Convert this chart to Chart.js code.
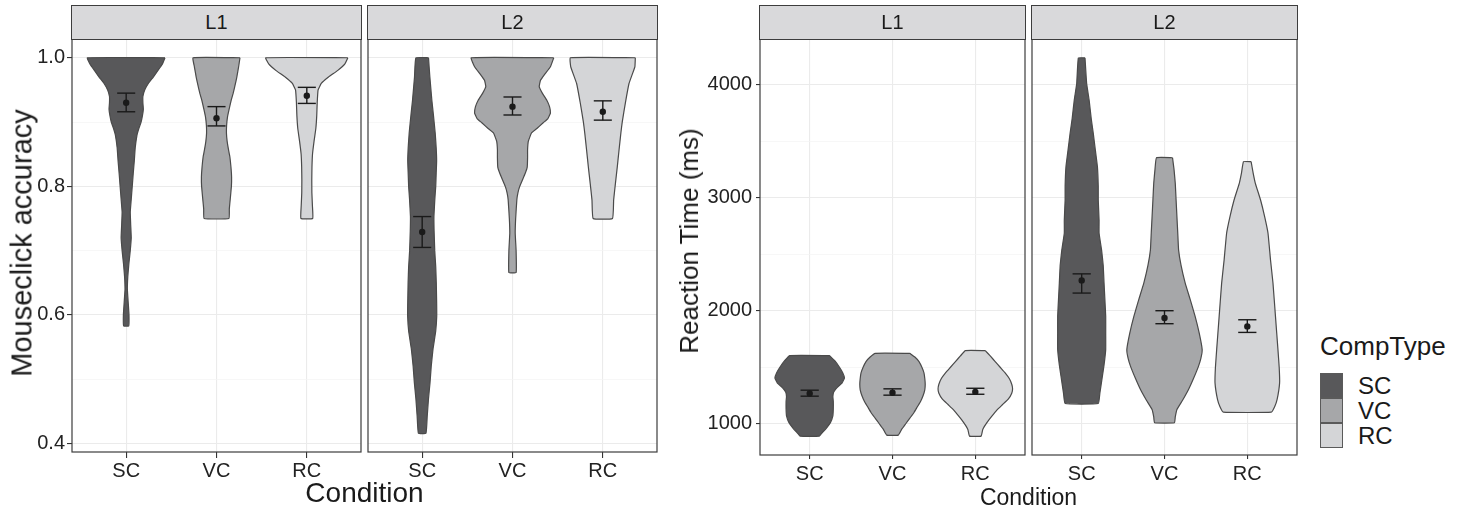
<!DOCTYPE html>
<html><head><meta charset="utf-8">
<script src="https://cdn.jsdelivr.net/npm/chart.js@4.4.1/dist/chart.umd.min.js"></script>
<style>
body{margin:0;background:#fff;width:1457px;height:512px;overflow:hidden;position:relative;font-family:"Liberation Sans",Arial,sans-serif;color:#1a1a1a}
canvas{position:absolute}
.strip{position:absolute;top:5px;height:35px;box-sizing:border-box;background:#d9d9db;border:1.2px solid #3d3d3d;display:flex;align-items:center;justify-content:center;font-size:20px;z-index:2;color:#1a1a1a}
.txt{position:absolute;white-space:nowrap;line-height:1;z-index:3}
.key{position:absolute;left:1320px;width:23px;height:25px;box-sizing:border-box;border:1.2px solid #5a5a5a;z-index:3}
</style></head><body>
<canvas id="cLL1"></canvas><canvas id="cLL2"></canvas><canvas id="cRL1"></canvas><canvas id="cRL2"></canvas>
<div id="labels"></div>
<script>
// ---------- DATA ----------
const categories = ['SC', 'VC', 'RC'];
const panels = ['L1', 'L2'];
const legendTitle = 'CompType';

// Mouseclick accuracy: violin outlines as [value, half-width (category units)]
const accL1SC = [[1.00,0.43],[0.99,0.40],[0.98,0.35],[0.97,0.30],[0.96,0.245],[0.95,0.205],[0.94,0.185],[0.93,0.185],[0.92,0.19],[0.91,0.18],[0.90,0.165],[0.89,0.14],[0.88,0.12],[0.86,0.10],[0.84,0.09],[0.82,0.078],[0.80,0.067],[0.78,0.056],[0.76,0.045],[0.74,0.05],[0.72,0.056],[0.70,0.045],[0.68,0.03],[0.66,0.018],[0.64,0.013],[0.62,0.022],[0.60,0.031],[0.583,0.028]];
const accL1VC = [[1.00,0.26],[0.986,0.245],[0.97,0.225],[0.96,0.21],[0.945,0.185],[0.934,0.163],[0.92,0.14],[0.908,0.122],[0.895,0.112],[0.883,0.11],[0.87,0.118],[0.857,0.133],[0.846,0.148],[0.83,0.16],[0.815,0.167],[0.80,0.165],[0.78,0.152],[0.765,0.142],[0.75,0.137]];
const accL1RC = [[1.00,0.455],[0.99,0.42],[0.98,0.34],[0.97,0.24],[0.96,0.16],[0.95,0.125],[0.93,0.115],[0.91,0.11],[0.89,0.10],[0.87,0.08],[0.85,0.063],[0.83,0.057],[0.81,0.055],[0.79,0.056],[0.77,0.062],[0.75,0.065]];
const accL2SC = [[1.00,0.07],[0.97,0.085],[0.934,0.107],[0.91,0.125],[0.883,0.144],[0.86,0.155],[0.84,0.16],[0.82,0.155],[0.80,0.15],[0.78,0.14],[0.753,0.13],[0.73,0.132],[0.70,0.139],[0.675,0.15],[0.65,0.156],[0.62,0.16],[0.598,0.161],[0.575,0.15],[0.547,0.12],[0.52,0.10],[0.495,0.087],[0.47,0.07],[0.443,0.056],[0.416,0.042]];
const accL2VC = [[1.00,0.457],[0.986,0.42],[0.975,0.36],[0.965,0.31],[0.955,0.296],[0.945,0.33],[0.934,0.38],[0.924,0.41],[0.914,0.42],[0.905,0.39],[0.899,0.34],[0.89,0.27],[0.883,0.21],[0.87,0.175],[0.857,0.167],[0.845,0.167],[0.83,0.163],[0.82,0.14],[0.81,0.11],[0.80,0.08],[0.79,0.06],[0.779,0.048],[0.75,0.035],[0.727,0.03],[0.70,0.04],[0.666,0.04]];
const accL2RC = [[1.00,0.36],[0.986,0.355],[0.96,0.29],[0.93,0.25],[0.90,0.215],[0.883,0.2],[0.857,0.18],[0.83,0.16],[0.805,0.14],[0.779,0.12],[0.75,0.107]];
const accMeanL1 = [0.930, 0.906, 0.941];
const accLoL1   = [0.916, 0.894, 0.929];
const accHiL1   = [0.945, 0.924, 0.954];
const accMeanL2 = [0.729, 0.924, 0.916];
const accLoL2   = [0.705, 0.911, 0.903];
const accHiL2   = [0.753, 0.939, 0.933];
const accTicks = [0.4, 0.6, 0.8, 1.0];
const accMinor = [0.5, 0.7, 0.9];

// Reaction time (ms)
const rtL1SC = [[1603,0.24],[1560,0.30],[1500,0.36],[1450,0.40],[1406,0.42],[1360,0.39],[1320,0.33],[1280,0.29],[1240,0.28],[1200,0.285],[1130,0.285],[1070,0.28],[1010,0.25],[960,0.2],[920,0.15],[891,0.117]];
const rtL1VC = [[1623,0.21],[1590,0.27],[1550,0.32],[1500,0.355],[1450,0.38],[1400,0.39],[1350,0.395],[1300,0.39],[1250,0.37],[1200,0.34],[1150,0.30],[1100,0.26],[1050,0.21],[1000,0.16],[950,0.11],[900,0.07]];
const rtL1RC = [[1647,0.12],[1600,0.18],[1550,0.24],[1500,0.30],[1450,0.36],[1400,0.41],[1350,0.44],[1310,0.45],[1270,0.44],[1220,0.40],[1170,0.33],[1120,0.26],[1067,0.2],[1010,0.14],[950,0.09],[891,0.07]];
const rtL2SC = [[4236,0.04],[4009,0.06],[3862,0.09],[3700,0.115],[3568,0.14],[3420,0.165],[3273,0.19],[3100,0.2],[2979,0.2],[2800,0.21],[2685,0.21],[2538,0.24],[2400,0.26],[2244,0.27],[2100,0.28],[1950,0.29],[1800,0.29],[1656,0.29],[1520,0.27],[1420,0.25],[1274,0.22],[1179,0.2]];
const rtL2VC = [[3353,0.097],[3250,0.115],[3127,0.13],[2980,0.14],[2832,0.15],[2690,0.16],[2538,0.17],[2400,0.2],[2244,0.25],[2100,0.31],[1950,0.37],[1800,0.42],[1656,0.455],[1580,0.44],[1508,0.41],[1400,0.35],[1303,0.29],[1210,0.22],[1126,0.15],[1060,0.13],[1009,0.12]];
const rtL2RC = [[3318,0.046],[3220,0.07],[3127,0.097],[2979,0.16],[2830,0.21],[2685,0.25],[2450,0.28],[2244,0.31],[1950,0.34],[1656,0.37],[1500,0.385],[1362,0.39],[1215,0.36],[1150,0.33],[1103,0.29]];
const rtMeanL1 = [1268, 1274, 1282];
const rtLoL1   = [1244, 1253, 1261];
const rtHiL1   = [1297, 1309, 1314];
const rtMeanL2 = [2268, 1935, 1861];
const rtLoL2   = [2156, 1885, 1808];
const rtHiL2   = [2326, 2000, 1920];
const rtTicks = [1000, 2000, 3000, 4000];
const rtMinor = [1500, 2500, 3500];

// ---------- STYLE ----------
const FONT = "'Liberation Sans', Arial, sans-serif";
const fills = ['#58585a', '#a6a7a9', '#d4d5d7'];
const outline = '#4a4a4a';
const PADT = 22;

function violinPoints(profile, idx) {
  const c = idx + 1;
  const right = profile.map(([y, w]) => ({x: c + w, y}));
  const left = profile.slice().reverse().map(([y, w]) => ({x: c - w, y}));
  return [...right, ...left, right[0]];
}
function expanded(profiles) {
  const ys = profiles.flat().map(p => p[0]);
  const lo = Math.min(...ys), hi = Math.max(...ys), e = (hi - lo) * 0.05;
  return [lo - e, hi + e];
}

const panelBorder = {
  id: 'panelBorder',
  afterDatasetsDraw(chart) {
    const {ctx, chartArea: a} = chart;
    ctx.save();
    ctx.strokeStyle = '#3d3d3d';
    ctx.lineWidth = 1.2;
    ctx.strokeRect(a.left, a.top, a.right - a.left, a.bottom - a.top);
    ctx.restore();
  }
};

function makeFacet(cfg) {
  const {id, area, yW, profiles, means, lo, hi, ticks, minor, fmt, range, tickLenY, padY, tickLenX, padX, capHalf} = cfg;
  const showY = yW > 0;
  const cv = document.getElementById(id);
  const padL = showY ? 0 : 8;
  const cLeft = area.l - (showY ? yW : 8);
  const cTop = area.t - PADT;
  const w = area.r - cLeft + 8, h = area.b - cTop + 42;
  cv.width = w; cv.height = h;
  cv.style.left = cLeft + 'px'; cv.style.top = cTop + 'px';
  cv.style.width = w + 'px'; cv.style.height = h + 'px';

  const datasets = [];
  profiles.forEach((p, i) => {
    datasets.push({data: violinPoints(p, i), showLine: true, fill: 'shape', backgroundColor: fills[i],
      borderColor: outline, borderWidth: 1.2, pointRadius: 0, tension: 0.1, order: 3});
  });
  means.forEach((m, i) => {
    const c = i + 1;
    const seg = pts => ({data: pts, showLine: true, fill: false, borderColor: '#1a1a1a', borderWidth: 1.4, pointRadius: 0, order: 2});
    datasets.push(seg([{x: c - capHalf, y: hi[i]}, {x: c + capHalf, y: hi[i]}]));
    datasets.push(seg([{x: c - capHalf, y: lo[i]}, {x: c + capHalf, y: lo[i]}]));
    datasets.push(seg([{x: c, y: lo[i]}, {x: c, y: hi[i]}]));
  });
  datasets.push({data: means.map((m, i) => ({x: i + 1, y: m})), showLine: false, pointRadius: 3.2,
    pointBackgroundColor: '#1a1a1a', pointBorderWidth: 0, order: 1});

  const allY = [...ticks, ...minor].sort((a, b) => a - b);
  const isMajor = v => ticks.includes(v);
  new Chart(cv, {
    type: 'scatter',
    data: {datasets},
    options: {
      responsive: false, animation: false, devicePixelRatio: 1,
      layout: {padding: {left: padL, top: PADT, right: 8, bottom: 0}},
      plugins: {legend: {display: false}, tooltip: {enabled: false}},
      scales: {
        x: {
          type: 'linear', min: 0.4, max: 3.6,
          afterBuildTicks: s => { s.ticks = categories.map((c, i) => ({value: i + 1})); },
          afterFit: s => { s.height = 42; },
          ticks: {callback: v => categories[Math.round(v) - 1] || '', font: {family: FONT, size: 20}, color: '#222',
            padding: padX, maxRotation: 0, autoSkip: false},
          grid: {color: '#ebebeb', lineWidth: 1.1, tickColor: '#333', tickLength: tickLenX, tickWidth: 1.1},
          border: {display: false}
        },
        y: {
          type: 'linear', min: range[0], max: range[1],
          afterBuildTicks: s => { s.ticks = allY.map(v => ({value: v})); },
          afterFit: s => { s.width = showY ? yW : 0; },
          ticks: {display: showY, callback: v => isMajor(v) ? fmt(v) : '', font: {family: FONT, size: 20}, color: '#222',
            padding: padY, autoSkip: false},
          grid: {
            color: c => (c.tick && isMajor(c.tick.value)) ? '#ebebeb' : '#f3f3f3',
            lineWidth: c => (c.tick && isMajor(c.tick.value)) ? 1.1 : 0.7,
            tickColor: c => (c.tick && isMajor(c.tick.value)) ? '#333' : 'rgba(0,0,0,0)',
            tickLength: showY ? tickLenY : 0, drawTicks: showY, tickWidth: 1.1
          },
          border: {display: false}
        }
      }
    },
    plugins: [panelBorder]
  });
}

const accRange = expanded([accL1SC, accL1VC, accL1RC, accL2SC, accL2VC, accL2RC]);
const rtRange = expanded([rtL1SC, rtL1VC, rtL1RC, rtL2SC, rtL2VC, rtL2RC]);
const accFmt = v => v.toFixed(1);
const rtFmt = v => String(v);

const areas = {
  LL1: {l: 72, r: 361, t: 39, b: 452},
  LL2: {l: 368, r: 657, t: 39, b: 452},
  RL1: {l: 760, r: 1025, t: 39, b: 455},
  RL2: {l: 1032, r: 1297, t: 39, b: 455}
};
makeFacet({id: 'cLL1', area: areas.LL1, yW: 72, profiles: [accL1SC, accL1VC, accL1RC], means: accMeanL1, lo: accLoL1, hi: accHiL1,
  ticks: accTicks, minor: accMinor, fmt: accFmt, range: accRange, tickLenY: 5, padY: 2, tickLenX: 6, padX: 1, capHalf: 0.1});
makeFacet({id: 'cLL2', area: areas.LL2, yW: 0, profiles: [accL2SC, accL2VC, accL2RC], means: accMeanL2, lo: accLoL2, hi: accHiL2,
  ticks: accTicks, minor: accMinor, fmt: accFmt, range: accRange, tickLenY: 5, padY: 2, tickLenX: 6, padX: 1, capHalf: 0.1});
makeFacet({id: 'cRL1', area: areas.RL1, yW: 62, profiles: [rtL1SC, rtL1VC, rtL1RC], means: rtMeanL1, lo: rtLoL1, hi: rtHiL1,
  ticks: rtTicks, minor: rtMinor, fmt: rtFmt, range: rtRange, tickLenY: 4, padY: 4, tickLenX: 4, padX: 3, capHalf: 0.11});
makeFacet({id: 'cRL2', area: areas.RL2, yW: 0, profiles: [rtL2SC, rtL2VC, rtL2RC], means: rtMeanL2, lo: rtLoL2, hi: rtHiL2,
  ticks: rtTicks, minor: rtMinor, fmt: rtFmt, range: rtRange, tickLenY: 4, padY: 4, tickLenX: 4, padX: 3, capHalf: 0.11});

// ---------- TEXT / STRIPS / LEGEND ----------
const L = document.getElementById('labels');
function add(html, cls, style) { const d = document.createElement('div'); d.className = cls; d.innerHTML = html; Object.assign(d.style, style); L.appendChild(d); return d; }
[['LL1', 0], ['LL2', 1], ['RL1', 0], ['RL2', 1]].forEach(([k, p]) => {
  const a = areas[k];
  add(panels[p], 'strip', {left: (a.l - 0.6) + 'px', width: (a.r - a.l + 1.2) + 'px'});
});
add('Mouseclick accuracy', 'txt', {left: '22px', top: '243px', fontSize: '29px', transform: 'translate(-50%,-50%) rotate(-90deg)'});
add('Condition', 'txt', {left: '364.5px', top: '479px', fontSize: '28px', transform: 'translateX(-50%)'});
add('Reaction Time (ms)', 'txt', {left: '689px', top: '241px', fontSize: '26px', transform: 'translate(-50%,-50%) rotate(-90deg)'});
add('Condition', 'txt', {left: '1028.5px', top: '486px', fontSize: '23px', transform: 'translateX(-50%)'});
add(legendTitle, 'txt', {left: '1320px', top: '333px', fontSize: '26px'});
categories.forEach((c, i) => {
  const top = 373 + i * 25;
  add('', 'key', {top: top + 'px', background: fills[i]});
  add(c, 'txt', {left: '1358px', top: (top + 0.5) + 'px', fontSize: '24px'});
});
</script>
</body></html>
